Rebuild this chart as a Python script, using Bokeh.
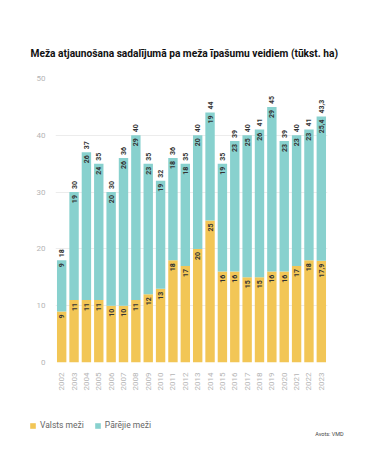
from bokeh.plotting import figure
from bokeh.models import ColumnDataSource, Label, Legend, LegendItem, FactorRange
from bokeh.layouts import column
from bokeh.core.properties import value
from bokeh.embed import file_html
from bokeh.resources import INLINE
import math

years = [str(y) for y in range(2002, 2024)]
valsts = [9, 11, 11, 11, 10, 10, 11, 12, 13, 18, 17, 20, 25, 16, 16, 15, 15, 16, 16, 17, 18, 17.9]
parejie = [9, 19, 26, 24, 20, 26, 29, 23, 19, 18, 18, 20, 19, 19, 23, 25, 26, 29, 23, 23, 23, 25.4]
totals = [18, 30, 37, 35, 30, 36, 40, 35, 32, 36, 35, 40, 44, 35, 39, 40, 41, 45, 39, 40, 41, 43.3]
y_ticks = [0, 10, 20, 30, 40, 50]
series_names = ["Valsts meži", "Pārējie meži"]

YELLOW = "#F2C656"
TEAL = "#88D1CE"
FONT = "Roboto"

def fmt(v):
    return (f"{v:.1f}".replace(".", ",")) if v != int(v) else str(int(v))

src = ColumnDataSource(dict(
    year=years, valsts=valsts, parejie=parejie, total=totals,
    vl=[fmt(v) for v in valsts], pl=[fmt(v) for v in parejie], tl=[fmt(v) for v in totals],
))

p = figure(width=358, height=400, x_range=FactorRange(*years), y_range=(0, 50),
           output_backend="svg", toolbar_location=None,
           min_border_left=55, min_border_right=31, min_border_top=78, min_border_bottom=38)
p.outline_line_color = None
p.background_fill_color = "white"

r = p.vbar_stack(["valsts", "parejie"], x="year", width=0.76, source=src,
                 color=[YELLOW, TEAL], line_color=None)

p.text(x="year", y="valsts", text="vl", source=src, angle=math.pi/2,
       text_align="right", text_baseline="middle", y_offset=3,
       text_font=value(FONT), text_font_style="bold", text_font_size="7px", text_color="#333333")
p.text(x="year", y="total", text="pl", source=src, angle=math.pi/2,
       text_align="right", text_baseline="middle", y_offset=3,
       text_font=value(FONT), text_font_style="bold", text_font_size="7px", text_color="#333333")
p.text(x="year", y="total", text="tl", source=src, angle=math.pi/2,
       text_align="left", text_baseline="middle", y_offset=-3,
       text_font=value(FONT), text_font_style="bold", text_font_size="7px", text_color="#333333")

p.yaxis.ticker = y_ticks
p.yaxis.axis_line_color = None
p.yaxis.major_tick_line_color = None
p.yaxis.minor_tick_line_color = None
p.yaxis.major_label_text_color = "#b5b5b5"
p.yaxis.major_label_text_font = FONT
p.yaxis.major_label_text_font_size = "8px"
p.yaxis.major_label_standoff = 4

p.xaxis.axis_line_color = None
p.xaxis.major_tick_line_color = None
p.xaxis.major_label_orientation = math.pi/2
p.xaxis.major_label_text_color = "#b5b5b5"
p.xaxis.major_label_text_font = FONT
p.xaxis.major_label_text_font_size = "8px"
p.xaxis.major_label_standoff = 4

p.xgrid.grid_line_color = None
p.ygrid.grid_line_color = "#ececec"
p.ygrid.grid_line_width = 1

p.title.text = "Meža atjaunošana sadalījumā pa meža īpašumu veidiem (tūkst. ha)"
p.title.text_font = FONT
p.title.text_font_style = "bold"
p.title.text_font_size = "10.2px"
p.title.text_color = "#111111"
p.title.offset = -25
p.title.standoff = 40

# legend / source strip
lf = figure(width=358, height=63, x_range=(0, 358), y_range=(0, 63),
            output_backend="svg", toolbar_location=None,
            min_border_left=0, min_border_right=0, min_border_top=0, min_border_bottom=0)
lf.axis.visible = False
lf.grid.visible = False
lf.outline_line_color = None
for fig in (p, lf):
    if "frame_align" in fig.properties():
        fig.frame_align = False
dummy = ColumnDataSource(dict(x=[-100], top=[-100]))
g1 = lf.vbar(x="x", top="top", width=1, source=dummy, color=YELLOW, line_color=None)
g2 = lf.vbar(x="x", top="top", width=1, source=dummy, color=TEAL, line_color=None)

legend = Legend(items=[LegendItem(label=series_names[0], renderers=[g1]),
                       LegendItem(label=series_names[1], renderers=[g2])],
                orientation="horizontal", location=(29, 33),
                label_text_font=FONT, label_text_font_size="8.5px", label_text_color="#666666",
                glyph_width=7, glyph_height=7, spacing=10, label_standoff=4,
                label_height=8,
                background_fill_alpha=0, border_line_color=None, padding=0, margin=0)
lf.add_layout(legend, "center")

lf.add_layout(Label(x=329, y=30, text="Avots: VMD",
                    text_font=FONT, text_font_size="5.5px", text_color="#444444",
                    text_align="center", text_baseline="middle"))

open("out.html", "w").write(file_html(column(p, lf), INLINE))
